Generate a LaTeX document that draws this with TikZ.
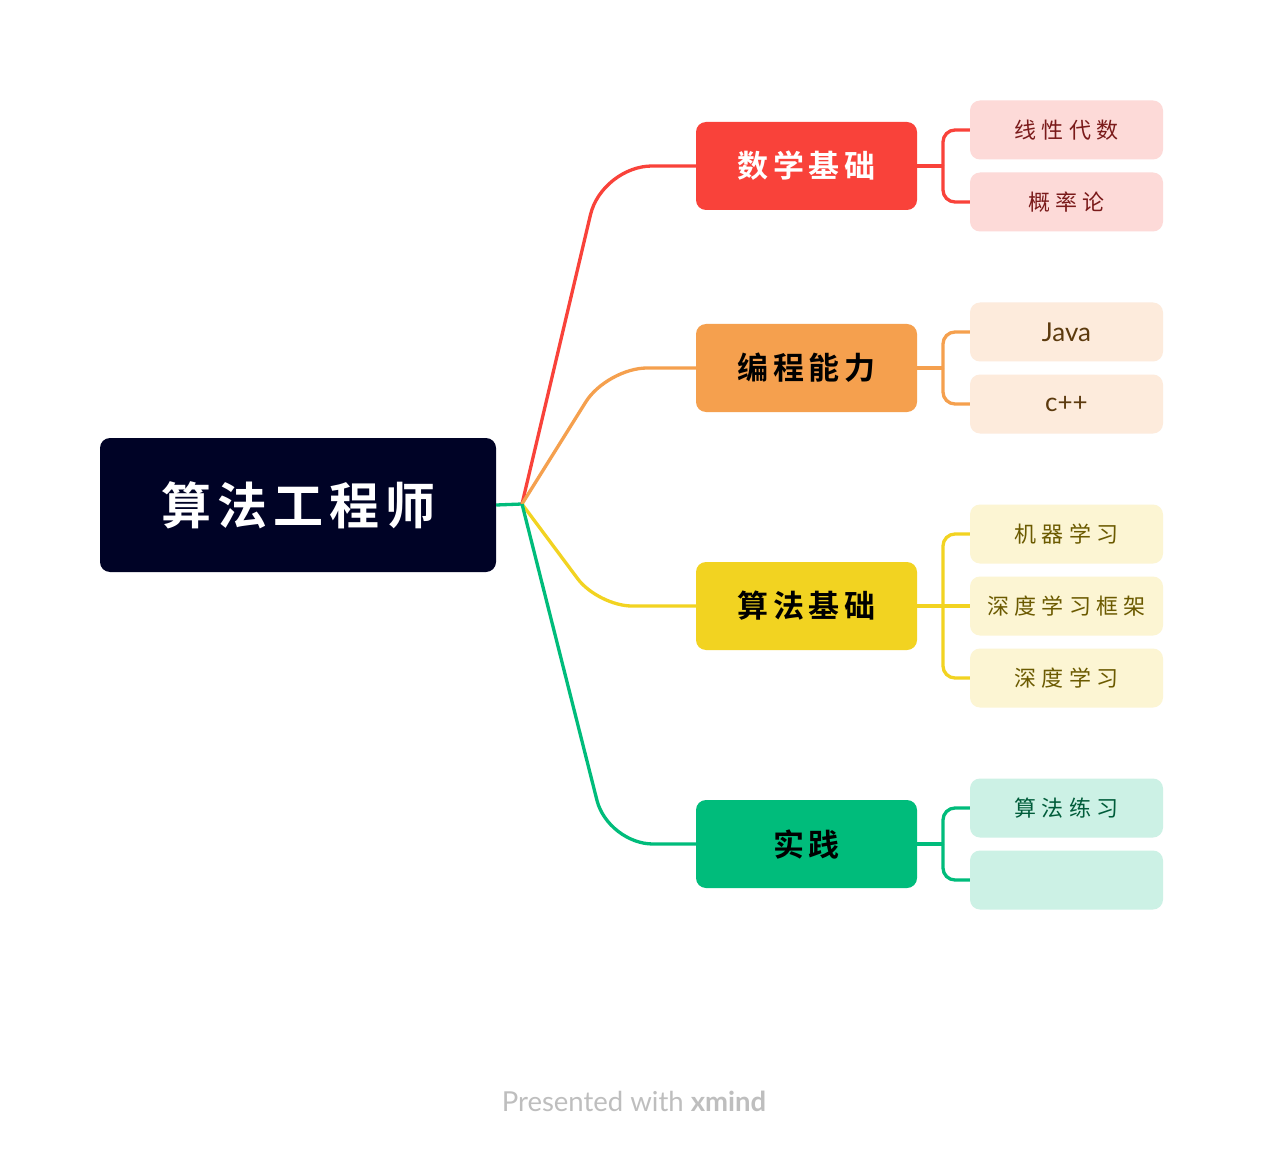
\documentclass[tikz,border=0pt]{standalone}
\usepackage{fontspec}
\setmainfont{Lato}
\newfontfamily\cjkroot[LetterSpace=12]{Noto Sans CJK SC Bold}
\newfontfamily\cjkmain[LetterSpace=14]{Noto Sans CJK SC Bold}
\newfontfamily\cjkchild[LetterSpace=24]{Noto Sans CJK SC}
\newfontfamily\latinchild{Lato}
\definecolor{rootc}{RGB}{0,3,38}
\definecolor{redc}{RGB}{249,66,58}
\definecolor{orc}{RGB}{245,160,78}
\definecolor{yec}{RGB}{242,211,33}
\definecolor{grc}{RGB}{0,188,123}
\definecolor{redl}{RGB}{253,218,216}
\definecolor{orl}{RGB}{253,235,220}
\definecolor{yel}{RGB}{252,245,211}
\definecolor{grl}{RGB}{204,241,229}
\definecolor{redt}{RGB}{122,26,26}
\definecolor{ort}{RGB}{92,58,14}
\definecolor{yet}{RGB}{107,90,0}
\definecolor{grt}{RGB}{0,92,58}
\definecolor{footc}{RGB}{190,190,190}
\begin{document}
\begin{tikzpicture}[x=1pt,y=-1pt,
  rootbox/.style={draw=none,fill=rootc,rounded corners=10pt,minimum width=396pt,minimum height=134pt,inner sep=0pt,text=white,font=\cjkroot\fontsize{50}{58}\selectfont},
  mainbox/.style={draw=none,rounded corners=10pt,minimum width=221pt,minimum height=88pt,inner sep=0pt,font=\cjkmain\fontsize{31}{36}\selectfont},
  childbox/.style={draw=none,rounded corners=10pt,minimum width=193pt,minimum height=59pt,inner sep=0pt,font=\cjkchild\fontsize{22}{26}\selectfont},
  conn/.style={line width=3.3pt},
  brk/.style={conn,rounded corners=12pt}]
\useasboundingbox (0,0) rectangle (1264,1150);
\fill[white] (0,0) rectangle (1264,1150);

% root
\node[rootbox] (root) at (298,505) {算法工程师};
\coordinate (j) at (522,504);

% main topics
\node[mainbox,fill=redc,text=white] (m1) at (806.5,166) {数学基础};
\node[mainbox,fill=orc,text=black] (m2) at (806.5,368) {编程能力};
\node[mainbox,fill=yec,text=black] (m3) at (806.5,606) {算法基础};
\node[mainbox,fill=grc,text=black] (m4) at (806.5,844) {实践};

% children
\node[childbox,fill=redl,text=redt] (c11) at (1066.5,130) {线性代数};
\node[childbox,fill=redl,text=redt] (c12) at (1066.5,202) {概率论};
\node[childbox,fill=orl,text=ort,font=\latinchild\fontsize{26}{30}\selectfont] (c21) at (1066.5,332) {Java};
\node[childbox,fill=orl,text=ort,font=\latinchild\fontsize{26}{30}\selectfont] (c22) at (1066.5,404) {c++};
\node[childbox,fill=yel,text=yet] (c31) at (1066.5,534) {机器学习};
\node[childbox,fill=yel,text=yet] (c32) at (1066.5,606) {深度学习框架};
\node[childbox,fill=yel,text=yet] (c33) at (1066.5,678) {深度学习};
\node[childbox,fill=grl,text=grt] (c41) at (1066.5,808) {算法练习};
\node[childbox,fill=grl] (c42) at (1066.5,880) {};

% root to junction
\draw[conn,grc] (root.east) -- (j);

% corner coordinates for curves
\coordinate (k1) at (602,166);
\coordinate (k2) at (607,368);
\coordinate (k3) at (598,606);
\coordinate (k4) at (608,844);
\draw[conn,redc,rounded corners=50pt] (j) -- (k1) -- (m1.west);
\draw[conn,orc,rounded corners=40pt] (j) -- (k2) -- (m2.west);
\draw[conn,yec,rounded corners=34pt] (j) -- (k3) -- (m3.west);
\draw[conn,grc,rounded corners=45pt] (j) -- (k4) -- (m4.west);

% brackets
\coordinate (b1) at (943,166);
\coordinate (b2) at (943,368);
\coordinate (b3) at (943,606);
\coordinate (b4) at (943,844);
\draw[conn,redc] (m1.east) -- (b1);
\draw[brk,redc] (b1) |- (c11.west);
\draw[brk,redc] (b1) |- (c12.west);
\draw[conn,orc] (m2.east) -- (b2);
\draw[brk,orc] (b2) |- (c21.west);
\draw[brk,orc] (b2) |- (c22.west);
\draw[conn,yec] (m3.east) -- (b3);
\draw[brk,yec] (b3) |- (c31.west);
\draw[conn,yec] (b3) -- (c32.west);
\draw[brk,yec] (b3) |- (c33.west);
\draw[conn,grc] (m4.east) -- (b4);
\draw[brk,grc] (b4) |- (c41.west);
\draw[brk,grc] (b4) |- (c42.west);

% footer
\node[text=footc,font=\fontsize{27.5}{32}\selectfont] (foot) at (634,1101) {Presented with \textbf{xmind}};
\end{tikzpicture}
\end{document}
